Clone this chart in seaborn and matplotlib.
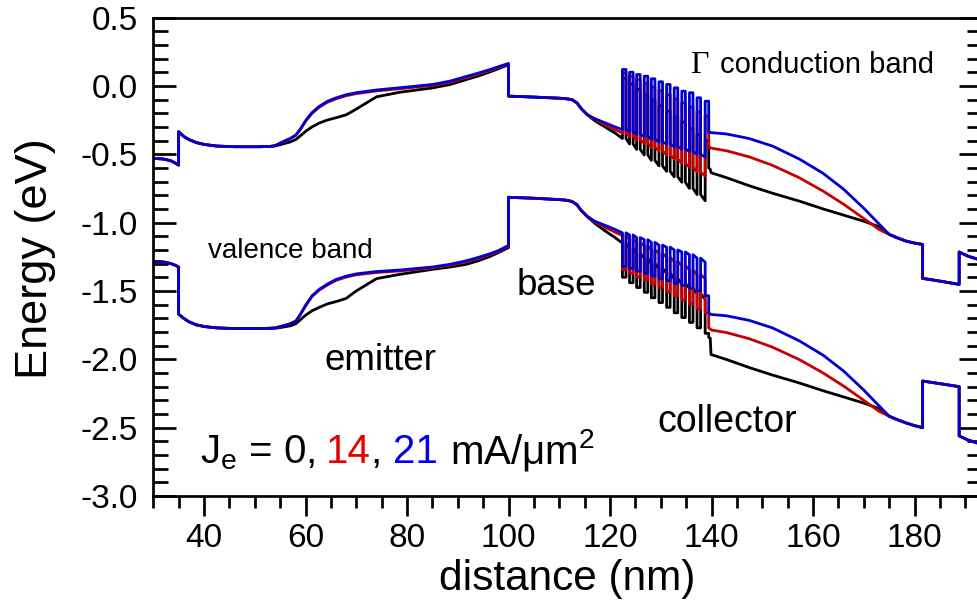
import numpy as np
import pandas as pd
import matplotlib
matplotlib.use("Agg")
import matplotlib.pyplot as plt
from matplotlib.ticker import MultipleLocator, FormatStrFormatter
import seaborn as sns

# ---------------- band-edge data (nm, eV) ----------------
currents = ["0", "14", "21"]
line_colors = ["#000000", "#c80000", "#0000d2"]

# contact layer + emitter (identical for all current densities)
x_left = [30, 32, 33.5, 34.5, 35.0, 35.0, 36, 37, 38.5, 40, 42.4, 46, 51, 53]
ec_left = [-0.53, -0.535, -0.548, -0.568, -0.58, -0.335, -0.37, -0.392, -0.415, -0.428, -0.44, -0.445, -0.445, -0.443]
ev_left = [-1.283, -1.288, -1.30, -1.315, -1.325, -1.67, -1.70, -1.725, -1.748, -1.76, -1.77, -1.775, -1.775, -1.773]

# emitter grade up to base interface
x_emit = [54, 55.5, 57, 58.1, 59, 60.1, 61.3, 62.7, 64.3, 66, 68, 70, 74, 78.5, 85, 88.5, 91.6, 94, 96.2, 98, 100, 100]
ec_emit_21 = [-0.437, -0.41, -0.385, -0.36, -0.315, -0.25, -0.195, -0.15, -0.113, -0.088, -0.065, -0.05, -0.03, -0.014, 0.01, 0.035, 0.068, 0.093, 0.118, 0.14, 0.164, -0.075]
ev_emit_21 = [-1.77, -1.756, -1.74, -1.72, -1.67, -1.60, -1.535, -1.488, -1.45, -1.416, -1.392, -1.375, -1.358, -1.347, -1.325, -1.305, -1.28, -1.255, -1.23, -1.205, -1.167, -0.815]
ec_emit_14 = [-0.437, -0.41, -0.385, -0.36, -0.318, -0.255, -0.2, -0.156, -0.12, -0.095, -0.072, -0.057, -0.037, -0.021, 0.003, 0.028, 0.06, 0.085, 0.11, 0.133, 0.16, -0.075]
ev_emit_14 = [-1.77, -1.756, -1.74, -1.72, -1.673, -1.605, -1.54, -1.494, -1.457, -1.423, -1.399, -1.382, -1.365, -1.354, -1.332, -1.312, -1.287, -1.262, -1.237, -1.212, -1.171, -0.815]
ec_emit_0 = [-0.44, -0.425, -0.41, -0.392, -0.365, -0.33, -0.3, -0.272, -0.25, -0.233, -0.212, -0.17, -0.08, -0.047, -0.015, 0.01, 0.045, 0.072, 0.1, 0.125, 0.155, -0.075]
ev_emit_0 = [-1.773, -1.765, -1.755, -1.74, -1.71, -1.675, -1.645, -1.62, -1.595, -1.578, -1.555, -1.50, -1.41, -1.379, -1.342, -1.325, -1.306, -1.28, -1.25, -1.22, -1.183, -0.815]

# base and base-collector junction (identical)
x_base = [100, 105, 110, 111.3, 112.5, 113.5, 114.3, 115.5]
ec_base = [-0.075, -0.082, -0.09, -0.094, -0.10, -0.125, -0.165, -0.21]
ev_base = [-0.815, -0.822, -0.832, -0.836, -0.845, -0.87, -0.91, -0.955]

# collector setback before the superlattice grade
x_set = [117, 119, 121, 122.45]
ec_set_0 = [-0.255, -0.30, -0.345, -0.385]
ec_set_14 = [-0.245, -0.285, -0.32, -0.345]
ec_set_21 = [-0.24, -0.27, -0.30, -0.32]
ev_set_0 = [-1.005, -1.06, -1.11, -1.15]
ev_set_14 = [-0.995, -1.035, -1.07, -1.095]
ev_set_21 = [-0.99, -1.02, -1.05, -1.075]

# superlattice grade: barrier layer edges and levels
spike_x0 = [122.45, 123.85, 125.25, 126.75, 128.15, 129.65, 131.15, 132.65, 134.15, 135.65, 137.15, 138.75]
spike_x1 = [123.15, 124.55, 125.95, 127.45, 128.85, 130.35, 131.85, 133.35, 134.85, 136.35, 137.85, 139.45]
ec_well_0 = [-0.385, -0.425, -0.465, -0.505, -0.545, -0.585, -0.625, -0.665, -0.705, -0.75, -0.795, -0.84]
ec_top_0 = [0.055, 0.015, -0.025, -0.065, -0.105, -0.145, -0.185, -0.225, -0.265, -0.31, -0.355, -0.40]
ec_well_14 = [-0.345, -0.37, -0.395, -0.42, -0.45, -0.475, -0.505, -0.535, -0.565, -0.595, -0.63, -0.66]
ec_top_14 = [0.095, 0.07, 0.045, 0.02, -0.01, -0.035, -0.065, -0.095, -0.125, -0.155, -0.19, -0.22]
ec_well_21 = [-0.32, -0.335, -0.355, -0.37, -0.39, -0.41, -0.425, -0.445, -0.46, -0.48, -0.50, -0.52]
ec_top_21 = [0.12, 0.10, 0.083, 0.071, 0.052, 0.03, 0.01, -0.014, -0.039, -0.05, -0.087, -0.112]
ev_well_0 = [-1.15, -1.19, -1.225, -1.26, -1.30, -1.335, -1.37, -1.41, -1.445, -1.48, -1.52, -1.56]
ev_dip_0 = [-1.40, -1.44, -1.475, -1.51, -1.55, -1.585, -1.62, -1.66, -1.695, -1.73, -1.77, -1.81]
ev_well_14 = [-1.095, -1.12, -1.145, -1.17, -1.20, -1.225, -1.255, -1.285, -1.315, -1.345, -1.38, -1.41]
ev_dip_14 = [-1.345, -1.37, -1.395, -1.42, -1.45, -1.475, -1.505, -1.535, -1.565, -1.595, -1.63, -1.66]
ev_well_21 = [-1.075, -1.09, -1.11, -1.125, -1.145, -1.165, -1.18, -1.20, -1.215, -1.235, -1.26, -1.29]
ev_dip_21 = [-1.32, -1.335, -1.355, -1.37, -1.39, -1.41, -1.425, -1.445, -1.46, -1.48, -1.50, -1.535]

# collector drift region
x_coll = [139.45, 139.75, 139.9, 143, 147.4, 152, 157.3, 162, 166, 170, 173]
ec_coll_0 = [-0.60, -0.61, -0.635, -0.672, -0.73, -0.785, -0.843, -0.90, -0.945, -0.99, -1.03]
ec_coll_14 = [-0.45, -0.452, -0.455, -0.475, -0.519, -0.581, -0.672, -0.77, -0.865, -0.97, -1.05]
ec_coll_21 = [-0.34, -0.341, -0.342, -0.352, -0.385, -0.44, -0.535, -0.64, -0.755, -0.895, -1.01]
ev_coll_0 = [-1.84, -1.845, -1.965, -2.002, -2.06, -2.115, -2.173, -2.23, -2.275, -2.32, -2.36]
ev_coll_14 = [-1.77, -1.778, -1.785, -1.805, -1.849, -1.911, -2.002, -2.10, -2.195, -2.30, -2.38]
ev_coll_21 = [-1.66, -1.668, -1.672, -1.682, -1.715, -1.77, -1.865, -1.97, -2.085, -2.225, -2.34]

# end of collector + sub-collector (identical)
x_right = [175, 176.5, 178.3, 180, 181.6, 181.6, 185, 188.8, 188.8, 190.5, 193.5]
ec_right = [-1.086, -1.11, -1.135, -1.15, -1.16, -1.408, -1.428, -1.452, -1.215, -1.245, -1.28]
ev_right = [-2.416, -2.44, -2.465, -2.485, -2.50, -2.159, -2.178, -2.20, -2.56, -2.59, -2.625]

per_current = {
    "0": dict(ec=(ec_emit_0, ec_set_0, ec_well_0, ec_top_0, ec_coll_0),
              ev=(ev_emit_0, ev_set_0, ev_well_0, ev_dip_0, ev_coll_0)),
    "14": dict(ec=(ec_emit_14, ec_set_14, ec_well_14, ec_top_14, ec_coll_14),
               ev=(ev_emit_14, ev_set_14, ev_well_14, ev_dip_14, ev_coll_14)),
    "21": dict(ec=(ec_emit_21, ec_set_21, ec_well_21, ec_top_21, ec_coll_21),
               ev=(ev_emit_21, ev_set_21, ev_well_21, ev_dip_21, ev_coll_21)),
}


def grade_path(x0, x1, well, edge):
    # step path through the barrier layers; last barrier drops straight to the collector
    xs, ys = [], []
    n = len(x0)
    for i, (a, b, w, e) in enumerate(zip(x0, x1, well, edge)):
        xs += [a, a, b]
        ys += [w, e, e]
        if i < n - 1:
            xs.append(b)
            ys.append(w)
    return xs, ys


rows = []
for cur in currents:
    for band, left, base, right in [("Ec", ec_left, ec_base, ec_right), ("Ev", ev_left, ev_base, ev_right)]:
        emit, setb, well, edge, coll = per_current[cur][band.lower()]
        gx, gy = grade_path(spike_x0, spike_x1, well, edge)
        xs = x_left + x_emit + x_base + x_set + gx + x_coll + x_right
        ys = left + emit + base + setb + gy + coll + right
        for i, (xv, yv) in enumerate(zip(xs, ys)):
            rows.append((cur, band, i, xv, yv))
df = pd.DataFrame(rows, columns=["current", "band", "idx", "distance", "energy"])

# ---------------- figure ----------------
sns.set_style("ticks")
plt.rcParams["font.family"] = ["Liberation Sans", "DejaVu Sans"]
plt.rcParams["mathtext.default"] = "regular"
plt.rcParams["axes.unicode_minus"] = False
plt.rcParams["text.color"] = "black"
plt.rcParams["axes.labelcolor"] = "black"

fig = plt.figure(figsize=(9.78, 6.0), dpi=100)
ax = fig.add_axes([0.1567, 0.1733, 0.8474, 0.7975])

sns.lineplot(data=df, x="distance", y="energy", hue="current", units="band",
             estimator=None, sort=False, palette=line_colors, hue_order=currents,
             linewidth=2.0, legend=False, ax=ax)

ax.set_xlim(30, 193.3)
ax.set_ylim(-3.0, 0.5)
ax.xaxis.set_major_locator(MultipleLocator(20))
ax.xaxis.set_minor_locator(MultipleLocator(5))
ax.yaxis.set_major_locator(MultipleLocator(0.5))
ax.yaxis.set_minor_locator(MultipleLocator(0.1))
ax.yaxis.set_major_formatter(FormatStrFormatter("%.1f"))

for sp in ax.spines.values():
    sp.set_linewidth(1.95)
    sp.set_color("black")

ax.tick_params(axis="x", which="both", direction="out", bottom=True, top=False,
               width=1.95, labelsize=24, pad=5, colors="black")
ax.tick_params(axis="x", which="major", length=14.4)
ax.tick_params(axis="x", which="minor", length=8.6)
ax.tick_params(axis="y", which="both", direction="in", left=True, right=True,
               width=1.95, labelsize=24, pad=11, colors="black")
ax.tick_params(axis="y", which="major", length=16.5)
ax.tick_params(axis="y", which="minor", length=10.8)

ax.set_xlabel("distance (nm)", fontsize=30.5, va="top")
ax.xaxis.set_label_coords(0.5, -0.132)
ax.set_ylabel("Energy (eV)", fontsize=32.5, va="center")
ax.yaxis.set_label_coords(-0.142, 0.497)

# region / band annotations
tr = ax.transAxes
ax.text(0.648, 0.884, "Γ", transform=tr, fontsize=23, family=["Liberation Serif", "DejaVu Serif"], va="baseline")
ax.text(0.684, 0.884, "conduction band", transform=tr, fontsize=21, va="baseline")
ax.text(0.066, 0.497, "valence band", transform=tr, fontsize=20, va="baseline")
ax.text(0.486, 0.42, "base", transform=tr, fontsize=26.5, va="baseline", ha="center")
ax.text(0.274, 0.263, "emitter", transform=tr, fontsize=26.5, va="baseline", ha="center")
ax.text(0.693, 0.134, "collector", transform=tr, fontsize=27, va="baseline", ha="center")

# J_e legend text with coloured current values
pieces = [("J$_e$ = 0,", "black", 0.28), ("14", "#e60000", 0.0), (",", "black", 0.28),
          ("21", "#0000ee", 0.28), ("mA/μm$^2$", "black", 0.0)]
fig.canvas.draw()
renderer = fig.canvas.get_renderer()
xpos = 0.056
ybase = 0.069
fs = 29
em_axes = fs / 72 * fig.dpi / ax.get_window_extent().width
for s, c, gap in pieces:
    t = ax.text(xpos, ybase, s, transform=tr, fontsize=fs, color=c, va="baseline")
    bb = t.get_window_extent(renderer)
    xpos = tr.inverted().transform((bb.x1, bb.y0))[0] + gap * em_axes

fig.savefig("out.png", dpi=100)
